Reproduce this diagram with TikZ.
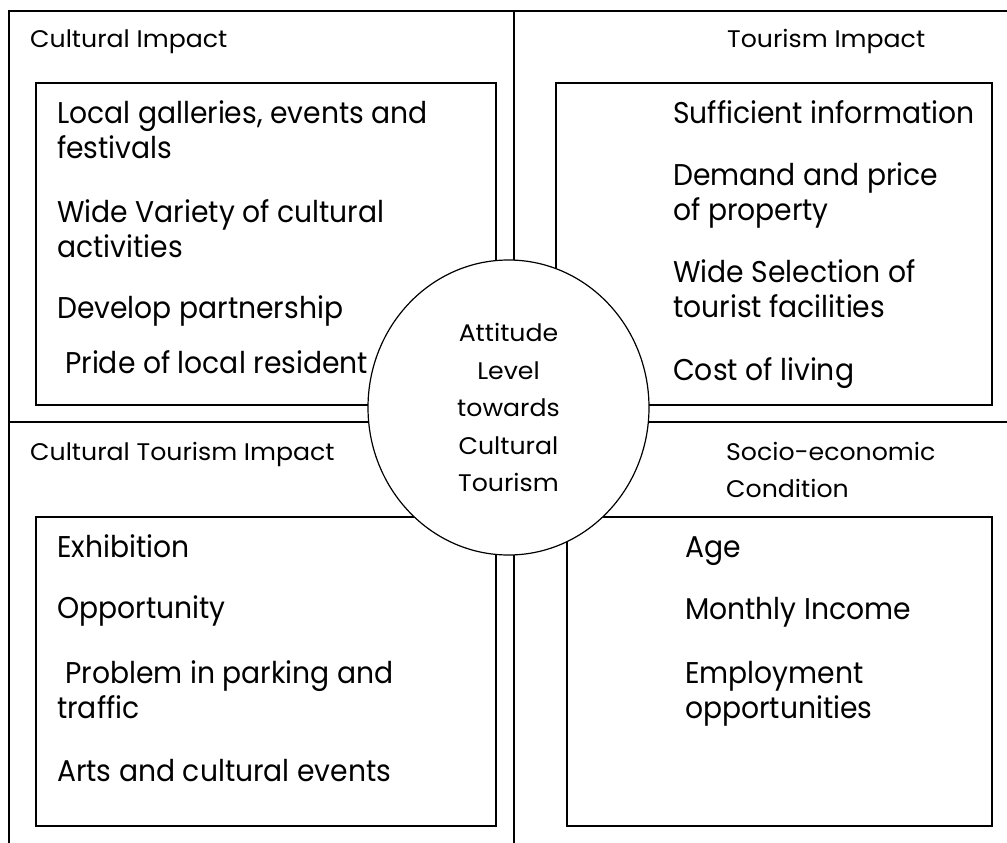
\documentclass[tikz,border=0pt]{standalone}
\usepackage{fontspec}
\setmainfont{Poppins}
\newfontfamily\itemfont[FakeStretch=0.94]{Poppins}
\newfontfamily\headfont[FakeStretch=1.05]{Poppins}
\usetikzlibrary{shapes.geometric}
\begin{document}
\begin{tikzpicture}[x=1pt,y=-1pt,
  frame/.style={line width=1.4pt},
  itembox/.style={draw, line width=1.3pt},
  head/.style={anchor=base west, inner sep=0pt, font=\headfont\fontsize{24}{37}\selectfont, align=left},
  item/.style={anchor=base west, inner sep=0pt, font=\itemfont\fontsize{30}{35}\selectfont, align=left},
]
\useasboundingbox (0,0) rectangle (1007,843);
% quadrant frame
\draw[frame] (9,843) -- (9,11) -- (1007,11);
\draw[frame] (514,11) -- (514,843);
\draw[frame] (9,422) -- (1007,422);
% inner boxes
\draw[itembox] (36,83) rectangle (496,405);
\draw[itembox] (556,83) rectangle (992,405);
\draw[itembox] (36,517) rectangle (496,826);
\draw[itembox] (567,517) rectangle (992,826);

% top left quadrant (multi-line nodes sit on their last baseline)
\node[head] (hCI) at (30,48) {Cultural Impact};
\node[item] (ci1) at (57,158) {Local galleries, events and\\festivals};
\node[item] (ci2) at (57,257) {Wide Variety of cultural\\activities};
\node[item] (ci3) at (57,318) {Develop partnership};
\node[item] (ci4) at (65,373) {Pride of local resident};

% top right quadrant
\node[head] (hTI) at (727,48) {Tourism Impact};
\node[item] (ti1) at (673,123) {Sufficient information};
\node[item] (ti2) at (673,220) {Demand and price\\of property};
\node[item] (ti3) at (673,317) {Wide Selection of\\tourist facilities};
\node[item] (ti4) at (673,380) {Cost of living};

% bottom left quadrant
\node[head] (hCT) at (30,460) {Cultural Tourism Impact};
\node[item] (ct1) at (57,557) {Exhibition};
\node[item] (ct2) at (57,618) {Opportunity};
\node[item] (ct3) at (57,718) {\hspace*{8pt}Problem in parking and\\traffic};
\node[item] (ct4) at (57,781) {Arts and cultural events};

% bottom right quadrant
\node[head] (hSE) at (726,497) {Socio-economic\\Condition};
\node[item] (se1) at (685,557) {Age};
\node[item] (se2) at (685,619) {Monthly Income};
\node[item] (se3) at (685,718) {Employment\\opportunities};

% central ellipse
\node[draw, fill=white, ellipse, minimum width=281pt, minimum height=295pt,
      inner sep=0pt, line width=1.2pt] (core) at (508.5,407.5) {};
\node[font=\headfont\fontsize{24}{37.5}\selectfont, align=center, inner sep=0pt] (coretext)
  at (core.center) {Attitude\\Level\\towards\\Cultural\\Tourism};
\end{tikzpicture}
\end{document}
